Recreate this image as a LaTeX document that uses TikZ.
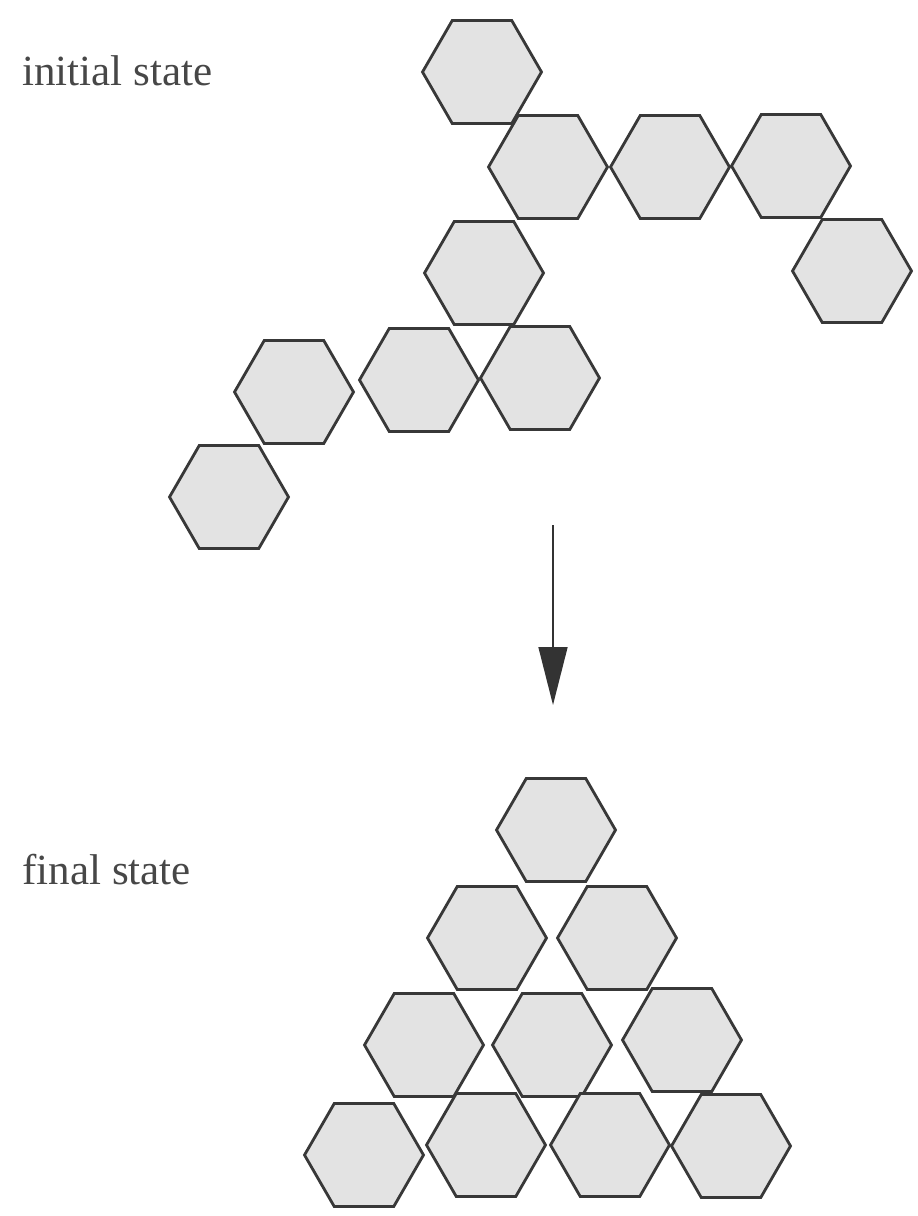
\documentclass[tikz,border=0pt]{standalone}
\usepackage{fontspec}
\setmainfont{Liberation Serif}
\usepackage{tikz}
\usetikzlibrary{shapes.geometric,arrows.meta,positioning}

\begin{document}
\begin{tikzpicture}[x=0.02cm,y=-0.02cm,
    hexcell/.style={regular polygon, regular polygon sides=6, minimum size=2.38cm,
        inner sep=0pt, draw=black!78, fill=black!11, line width=1.6pt},
    statelabel/.style={anchor=base west, inner sep=0pt, text=black!72,
        font=\fontsize{24.5}{28}\selectfont}]
            \useasboundingbox (0,0) rectangle (918,1216);

            % Initial state
            \node[statelabel] (initlabel) at (22,86) {initial state};
            \node[hexcell] (i1) at (482,72) {};
            \node[hexcell] (i2) at (548,167) {};
            \node[hexcell] (i3) at (670,167) {};
            \node[hexcell] (i4) at (791,166) {};
            \node[hexcell] (i5) at (852,271) {};
            \node[hexcell] (i6) at (484,273) {};
            \node[hexcell] (i7) at (419,380) {};
            \node[hexcell] (i8) at (540,378) {};
            \node[hexcell] (i9) at (294,392) {};
            \node[hexcell] (i10) at (229,497) {};

            % Arrow from initial to final
            \coordinate (arrowtop) at (553,525);
            \coordinate (arrowtip) at (553,705);
            \draw[-{Triangle[length=1.16cm,width=0.58cm]}, line width=0.9pt, black!80]
                (arrowtop) -- (arrowtip);

            % Final state
            \node[statelabel] (finallabel) at (22,884) {final state};
            \node[hexcell] (f1) at (556,830) {};
            \node[hexcell] (f2) at (487,938) {};
            \node[hexcell] (f3) at (617,938) {};
            \node[hexcell] (f4) at (424,1045) {};
            \node[hexcell] (f5) at (552,1045) {};
            \node[hexcell] (f6) at (682,1040) {};
            \node[hexcell] (f7) at (364,1155) {};
            \node[hexcell] (f8) at (486,1145) {};
            \node[hexcell] (f9) at (610,1145) {};
            \node[hexcell] (f10) at (731,1146) {};
\end{tikzpicture}
\end{document}
